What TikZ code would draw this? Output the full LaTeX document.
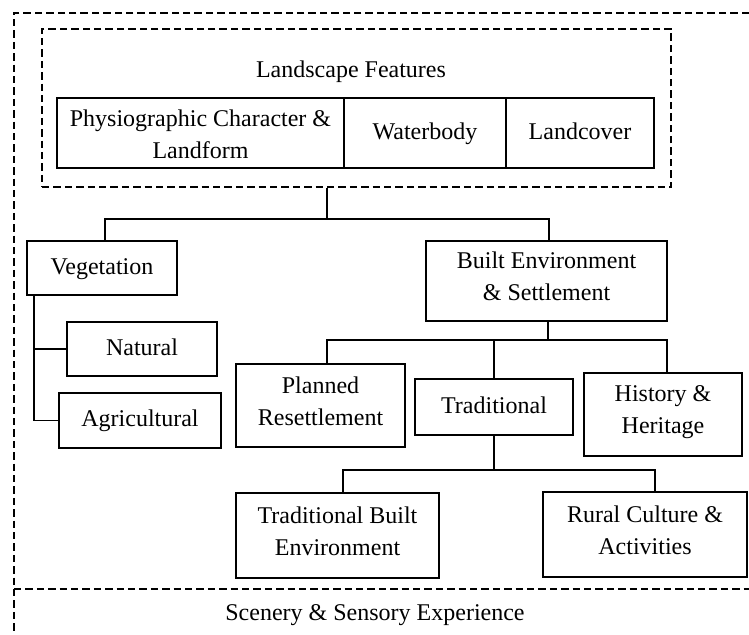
\documentclass[tikz,border=0pt]{standalone}
\usepackage{fontspec}
\setmainfont{Liberation Serif}
\usepackage{tikz}
\usetikzlibrary{positioning, calc}

\begin{document}
\begin{tikzpicture}[
    x=0.5pt, y=-0.5pt, line width=0.6pt,
    font=\fontsize{12}{16}\selectfont,
    box/.style={rectangle, draw, inner sep=0pt, align=center, execute at begin node=\strut, execute at end node=\strut},
    dashline/.style={dash pattern=on 3.7pt off 2pt},
    label/.style={inner sep=0pt, align=center, execute at begin node=\strut}
]
    \useasboundingbox (0,0) rectangle (749,634);

    \draw[dashline] (749,13) -- (14,13) -- (14,634);
    \draw[dashline] (14,589) -- (749,589);
    \node[label] (scenery) at (375,614) {Scenery \& Sensory Experience};

    \node[rectangle, draw, dashline, minimum width=314.5pt, minimum height=79pt] (lf) at (356.5,108) {};
    \node[label] (lftitle) at (351,71) {Landscape Features};
    \node[box, minimum width=143.5pt, minimum height=35pt] (physio) at (200.5,133) {\rule{0pt}{14pt}Physiographic Character \&\\Landform};
    \node[box, minimum width=81pt, minimum height=35pt] (water) at (425,133) {Waterbody};
    \node[box, minimum width=74pt, minimum height=35pt] (cover) at (580,133) {Landcover};

    \node[box, minimum width=75pt, minimum height=27pt] (veg) at (102,268) {Vegetation};
    \node[box, minimum width=120.5pt, minimum height=40pt] (built) at (546.5,281) {Built Environment\\\& Settlement};

    \node[box, minimum width=75pt, minimum height=27pt] (nat) at (142,349) {Natural};
    \node[box, minimum width=81pt, minimum height=27.5pt] (agri) at (140,420.5) {Agricultural};

    \node[box, minimum width=84.5pt, minimum height=41.5pt] (plan) at (320.5,405.5) {Planned\\Resettlement};
    \node[box, minimum width=79pt, minimum height=28pt] (trad) at (494,407) {Traditional};
    \node[box, minimum width=79pt, minimum height=41.5pt] (hist) at (663,414.5) {History \&\\Heritage};

    \node[box, minimum width=101.5pt, minimum height=42.5pt] (tbe) at (337.5,535.5) {Traditional Built\\Environment};
    \node[box, minimum width=102pt, minimum height=42.5pt] (rural) at (645,534.5) {Rural Culture \&\\Activities};

    \coordinate (j1) at (327,219);
    \coordinate (vb) at (34,295);
    \coordinate (j2) at (548,340);
    \coordinate (j3) at (494,470);

    \draw (lf.south -| j1) -- (j1);
    \draw ([xshift=1.5pt]veg.north) |- (j1) -| ([xshift=1.25pt]built.north);

    \draw (veg.south -| vb) |- (agri.west);
    \draw (vb |- nat.west) -- (nat.west);

    \draw (built.south -| j2) -- (j2);
    \draw ([xshift=3.25pt]plan.north) |- (j2) -| ([xshift=2pt]hist.north);
    \draw (trad.north) -- (trad.north |- j2);

    \draw (trad.south) -- (j3);
    \draw ([xshift=2.75pt]tbe.north) |- (j3) -| ([xshift=5pt]rural.north);
\end{tikzpicture}
\end{document}
